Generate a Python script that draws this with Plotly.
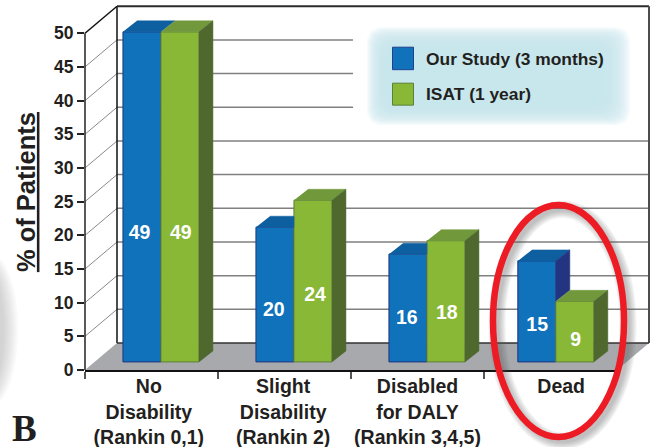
import plotly.graph_objects as go

# values
categories = ["<b>No</b><br><b>Disability</b><br><b>(Rankin 0,1)</b>",
              "<b>Slight</b><br><b>Disability</b><br><b>(Rankin 2)</b>",
              "<b>Disabled</b><br><b>for DALY</b><br><b>(Rankin 3,4,5)</b>",
              "<b>Dead</b>"]
category_pos = [0.48, 1.49, 2.5, 3.58]
group_pos = [0.571, 1.571, 2.571, 3.54]
our_study = [49, 20, 16, 15]
isat = [49, 24, 18, 9]
our_label_x = [0.41, 1.42, 2.42, 3.4]
isat_label_x = [0.72, 1.73, 2.72, 3.69]
our_label_y = [20.2, 8.8, 7.5, 6.5]
isat_label_y = [20.2, 10.9, 8.3, 4.3]
y_ticks = [0, 5, 10, 15, 20, 25, 30, 35, 40, 45, 50]

FONT = "Liberation Sans"
INK = "#231f20"
W, H = 651, 447
LEFT, RIGHT, TOP, BOTTOM = 85, 617, 33, 370
DEPTH_X, DEPTH_Y = 32, 27  # wall offset in pixels
UNIT = (BOTTOM - TOP) / 50
Y_MAX = 53  # room above 50 so the block tops are not clipped
PLOT_TOP = BOTTOM - Y_MAX * UNIT

# bar geometry in axis units
BAR_W = 0.2857
BASE = 1.2
DX = 14 / 133
DY = 11 / UNIT


def px(x):
    return (x - LEFT) / (RIGHT - LEFT)


def py(y):
    return (BOTTOM - y) / (BOTTOM - PLOT_TOP)


def line(x0, y0, x1, y1, color, width, layer="below"):
    return dict(type="line", xref="paper", yref="paper", x0=px(x0), y0=py(y0),
                x1=px(x1), y1=py(y1), layer=layer,
                line=dict(color=color, width=width))


def poly(points):
    return "M" + "L".join(f"{px(x):.5f},{py(y):.5f}" for x, y in points) + "Z"


def ellipse(x0, y0, x1, y1, **kw):
    return dict(type="circle", xref="paper", yref="paper", x0=px(x0), y0=py(y0),
                x1=px(x1), y1=py(y1), **kw)


def rounded(x0, y0, x1, y1, r):
    # rounded box in pixels, used for the soft legend glow
    pts = [(x0 + r, y0), (x1 - r, y0), (x1 - r * 0.3, y0 + r * 0.3), (x1, y0 + r),
           (x1, y1 - r), (x1 - r * 0.3, y1 - r * 0.3), (x1 - r, y1),
           (x0 + r, y1), (x0 + r * 0.3, y1 - r * 0.3), (x0, y1 - r),
           (x0, y0 + r), (x0 + r * 0.3, y0 + r * 0.3)]
    return poly(pts)


shapes = []

# smudge at the left edge of the scan
for i in range(8):
    shapes.append(ellipse(-30 - i, 268 - i * 2, 4 + i * 2, 392 + i * 2,
                          fillcolor="#808285", opacity=0.05,
                          line=dict(width=0), layer="below"))

# floor and walls
shapes.append(dict(type="path", xref="paper", yref="paper", layer="below",
                   path=poly([(LEFT, BOTTOM), (LEFT + DEPTH_X, BOTTOM - DEPTH_Y),
                              (RIGHT + DEPTH_X, BOTTOM - DEPTH_Y), (RIGHT, BOTTOM)]),
                   fillcolor="#a7a9ac", line=dict(width=0)))

for v in y_ticks[1:-1]:
    y = BOTTOM - v * UNIT
    shapes.append(line(LEFT, y, LEFT + DEPTH_X, y - DEPTH_Y, "#8a8a8a", 1))
    # top three lines stop short of the legend
    end = 353 if v >= 35 else RIGHT + DEPTH_X
    shapes.append(line(LEFT + DEPTH_X, y - DEPTH_Y, end, y - DEPTH_Y, "#808080", 1.5))

back_top = TOP - DEPTH_Y
back_bottom = BOTTOM - DEPTH_Y
shapes.append(line(LEFT, TOP, LEFT, BOTTOM, "#222222", 1.5))
shapes.append(line(LEFT, TOP, LEFT + DEPTH_X, back_top, "#111111", 1.5))
shapes.append(line(LEFT + DEPTH_X, back_top, LEFT + DEPTH_X, back_bottom, "#111111", 1.5))
shapes.append(line(LEFT + DEPTH_X, back_top, RIGHT + DEPTH_X, back_top, "#2b2b2b", 2))
shapes.append(line(RIGHT + DEPTH_X, back_top, RIGHT + DEPTH_X, back_bottom, "#4d4d4d", 2))
shapes.append(line(LEFT + DEPTH_X, back_bottom, RIGHT + DEPTH_X, back_bottom, "#333333", 1.5))

# legend glow, outer boxes are the faintest
for i in range(16):
    shapes.append(dict(type="path", xref="paper", yref="paper", layer="below",
                       path=rounded(367 + i * 1.2, 27 + i * 1.2, 630 - i * 1.7, 125 - i * 1.2, 12),
                       fillcolor="#c8e6ea", opacity=0.16, line=dict(width=0)))

shapes.append(dict(type="rect", xref="paper", yref="paper", x0=px(392.5), y0=py(47),
                   x1=px(413.5), y1=py(69.5), fillcolor="#0f72ba", layer="below",
                   line=dict(color="#1f3f8f", width=1)))
shapes.append(dict(type="rect", xref="paper", yref="paper", x0=px(392.5), y0=py(83),
                   x1=px(413.5), y1=py(105), fillcolor="#89b836", layer="below",
                   line=dict(color="#5d7f3a", width=1)))

# shadow and red ring round the last group
for i in range(7):
    shapes.append(ellipse(493 + 4, 205 + 4, 624 + 4, 437 + 4, fillcolor="rgba(0,0,0,0)",
                          opacity=0.06, layer="above",
                          line=dict(color="#58595b", width=4 + i * 2.2)))
shapes.append(ellipse(493, 205, 624, 437, fillcolor="rgba(0,0,0,0)", layer="above",
                      line=dict(color="#ed1c24", width=6.5)))

fig = go.Figure()

blue_x = [c - BAR_W / 2 for c in group_pos]
green_x = [c + BAR_W / 2 for c in group_pos]

fig.add_trace(go.Bar(x=blue_x, y=our_study, base=BASE, width=BAR_W, name="Our Study (3 months)",
                     marker=dict(color="#0f72ba", line=dict(color="#22347f", width=1)),
                     cliponaxis=False, hoverinfo="skip"))
fig.add_trace(go.Bar(x=green_x, y=isat, base=BASE, width=BAR_W, name="ISAT (1 year)",
                     marker=dict(color="#89b836", line=dict(color="#5d7f3a", width=1)),
                     cliponaxis=False, hoverinfo="skip"))


def face(xs, ys, color):
    fig.add_trace(go.Scatter(x=xs, y=ys, mode="lines", fill="toself", fillcolor=color,
                             line=dict(color=color, width=0.5), cliponaxis=False,
                             hoverinfo="skip", showlegend=False))


# top and side faces of the blocks
for i in range(len(our_study)):
    left = blue_x[i] - BAR_W / 2
    mid = blue_x[i] + BAR_W / 2
    right = green_x[i] + BAR_W / 2
    b = our_study[i] + BASE
    g = isat[i] + BASE

    # blue faces are cut where the green block hides them
    if g > b:
        face([left, mid, mid, left + DX], [b, b, b + DY, b + DY], "#0d5fa0")
    else:
        face([left, mid, mid + DX, left + DX], [b, b, b + DY, b + DY], "#0d5fa0")
    if b > g:
        face([mid, mid + DX, mid + DX, mid], [b, b + DY, g + DY, g], "#233580")

    face([mid, right, right + DX, mid + DX], [g, g, g + DY, g + DY], "#71993c")
    face([right, right + DX, right + DX, right], [g, g + DY, BASE + DY, BASE], "#4e682e")

fig.add_trace(go.Scatter(x=our_label_x + isat_label_x, y=our_label_y + isat_label_y, mode="text",
                         text=[str(v) for v in our_study + isat],
                         textfont=dict(family=FONT, size=19.5, color="white", weight=700),
                         cliponaxis=False, hoverinfo="skip", showlegend=False))

annotations = [
    dict(text="Our Study (3 months)", x=px(423.5), y=py(58.5)),
    dict(text="ISAT (1 year)", x=px(423.5), y=py(93.5)),
]
for a in annotations:
    a.update(xref="paper", yref="paper", xanchor="left", yanchor="middle", showarrow=False,
             font=dict(family=FONT, size=17.4, color=INK, weight=700))
annotations.append(dict(text="% of Patients", xref="paper", yref="paper", x=px(25.5), y=py(192.5),
                        textangle=-90, showarrow=False, xanchor="center", yanchor="middle",
                        font=dict(family=FONT, size=25.5, color=INK, weight=700,
                                  lineposition="under")))
annotations.append(dict(text="B", xref="paper", yref="paper", x=px(10), y=py(429),
                        showarrow=False, xanchor="left", yanchor="middle",
                        font=dict(family="Liberation Serif", size=37, color=INK, weight=700)))

fig.update_layout(
    width=W, height=H,
    margin=dict(l=LEFT, r=W - RIGHT, t=PLOT_TOP, b=H - BOTTOM, pad=0, autoexpand=False),
    paper_bgcolor="white", plot_bgcolor="rgba(0,0,0,0)",
    showlegend=False, barmode="overlay",
    shapes=shapes, annotations=annotations,
    xaxis=dict(range=[0, 4], tickvals=category_pos, ticktext=categories, ticks="",
               tickangle=0, showgrid=False, zeroline=False, showline=True, automargin=False,
               linecolor="#111111", linewidth=2, ticklabelstandoff=-2,
               tickfont=dict(family=FONT, size=19.5, color=INK),
               minor=dict(ticks="outside", ticklen=7, tickwidth=1.5, tickcolor="#555555",
                          dtick=1, tick0=0, showgrid=False)),
    yaxis=dict(range=[0, Y_MAX], tickvals=y_ticks, ticks="outside", ticklen=7, tickwidth=1.5,
               tickcolor="#222222", showgrid=False, zeroline=False, showline=False,
               automargin=False,
               tickfont=dict(family=FONT, size=17.5, color=INK, weight=700)),
)

# the page's default body margin would push everything 8px in
fig.write_html("out.html", config={"displayModeBar": False},
               post_script="document.body.style.margin='0';")
